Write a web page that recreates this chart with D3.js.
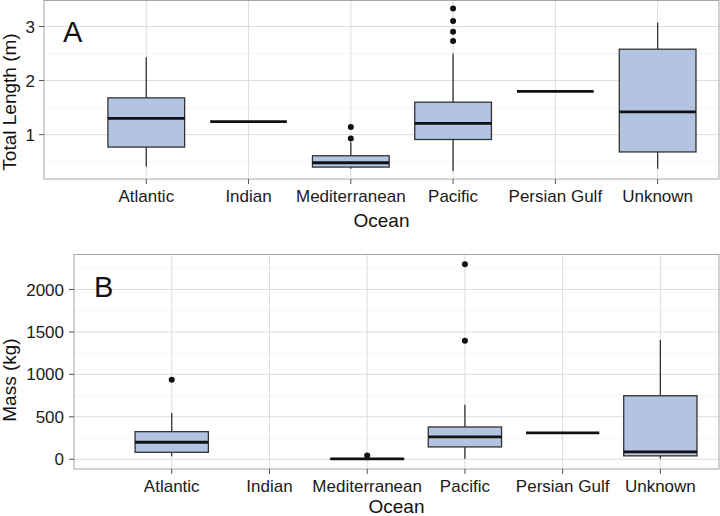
<!DOCTYPE html>
<html>
<head>
<meta charset="utf-8">
<script src="https://cdn.jsdelivr.net/npm/d3@7.9.0/dist/d3.min.js"></script>
<style>
  body { margin: 0; background: #fff; }
  svg { display: block; font-family: "Liberation Sans", Arial, sans-serif; }
</style>
</head>
<body>
<svg width="720" height="516"></svg>
<script>
const categories = ["Atlantic", "Indian", "Mediterranean", "Pacific", "Persian Gulf", "Unknown"];

// panel A: total length (m)
const lengthLow      = [0.41, 1.24, 0.37, 0.33, 1.80, 0.37];
const lengthQ1       = [0.77, 1.24, 0.40, 0.91, 1.80, 0.68];
const lengthMedian   = [1.30, 1.24, 0.48, 1.21, 1.80, 1.42];
const lengthQ3       = [1.68, 1.24, 0.61, 1.60, 1.80, 2.58];
const lengthHigh     = [2.43, 1.24, 0.86, 2.50, 1.80, 3.07];
const lengthOutliers = [[], [], [0.93, 1.14], [2.73, 2.90, 3.10, 3.33], [], []];
const lengthTicks = [1, 2, 3];

// panel B: mass (kg)
const massLow      = [35, null, 0, 5, 310, 5];
const massQ1       = [82, null, 2, 145, 310, 40];
const massMedian   = [200, null, 5, 263, 310, 87];
const massQ3       = [325, null, 8, 380, 310, 748];
const massHigh     = [545, null, 12, 642, 310, 1405];
const massOutliers = [[935], [], [43], [1397, 2297], [], []];
const massTicks = [0, 500, 1000, 1500, 2000];

const svg = d3.select('svg');
const boxFill = '#b2c4e2';

function drawPanel(opts) {
  const { left, top, right, bottom, low, q1, med, q3, high, outliers, ticks, minorTicks,
          letter, letterX, letterY, yTitle, yTitleX, yTitleY, labelY, titleY, tickGap } = opts;

  let all = [];
  categories.forEach((c, i) => {
    if (low[i] !== null) all.push(low[i], high[i]);
    all = all.concat(outliers[i]);
  });
  const lo = d3.min(all), hi = d3.max(all);
  const pad = (hi - lo) * 0.05;

  const y = d3.scaleLinear().domain([lo - pad, hi + pad]).range([bottom, top]);
  const x = d3.scaleLinear().domain([0, 6.6]).range([left, right]);
  const step = x(1) - x(0);
  const bw = step * 0.75;

  const g = svg.append('g');

  // minor grid
  g.selectAll('.minor').data(minorTicks).join('line')
    .attr('x1', left).attr('x2', right)
    .attr('y1', d => y(d)).attr('y2', d => y(d))
    .attr('stroke', '#f2f2f2').attr('stroke-width', 0.8);

  // major grid
  g.selectAll('.major').data(ticks).join('line')
    .attr('x1', left).attr('x2', right)
    .attr('y1', d => y(d)).attr('y2', d => y(d))
    .attr('stroke', '#dcdcdc').attr('stroke-width', 1);

  g.selectAll('.vgrid').data(categories).join('line')
    .attr('x1', (d, i) => x(i + 1)).attr('x2', (d, i) => x(i + 1))
    .attr('y1', top).attr('y2', bottom)
    .attr('stroke', '#dcdcdc').attr('stroke-width', 1);

  // boxes
  categories.forEach((c, i) => {
    if (low[i] === null) return;
    const cx = x(i + 1);
    g.append('line')
      .attr('x1', cx).attr('x2', cx)
      .attr('y1', y(q3[i])).attr('y2', y(high[i]))
      .attr('stroke', '#333').attr('stroke-width', 1.3);
    g.append('line')
      .attr('x1', cx).attr('x2', cx)
      .attr('y1', y(q1[i])).attr('y2', y(low[i]))
      .attr('stroke', '#333').attr('stroke-width', 1.3);
    g.append('rect')
      .attr('x', cx - bw / 2).attr('width', bw)
      .attr('y', y(q3[i])).attr('height', y(q1[i]) - y(q3[i]))
      .attr('fill', boxFill).attr('stroke', '#333').attr('stroke-width', 1.3);
    g.append('line')
      .attr('x1', cx - bw / 2).attr('x2', cx + bw / 2)
      .attr('y1', y(med[i])).attr('y2', y(med[i]))
      .attr('stroke', '#111').attr('stroke-width', 2.8);
    g.selectAll(null).data(outliers[i]).join('circle')
      .attr('cx', cx).attr('cy', d => y(d)).attr('r', 3)
      .attr('fill', '#111');
  });

  // panel border
  g.append('rect')
    .attr('x', left).attr('y', top)
    .attr('width', right - left).attr('height', bottom - top)
    .attr('fill', 'none').attr('stroke', '#a6a6a6').attr('stroke-width', 1);

  // y ticks
  ticks.forEach(t => {
    g.append('line')
      .attr('x1', left - 5).attr('x2', left)
      .attr('y1', y(t)).attr('y2', y(t))
      .attr('stroke', '#555').attr('stroke-width', 1);
    g.append('text')
      .attr('x', left - tickGap).attr('y', y(t))
      .attr('dy', '0.36em')
      .attr('text-anchor', 'end')
      .attr('font-size', 17).attr('fill', '#1a1a1a')
      .text(t);
  });

  // x ticks and labels
  categories.forEach((c, i) => {
    g.append('line')
      .attr('x1', x(i + 1)).attr('x2', x(i + 1))
      .attr('y1', bottom).attr('y2', bottom + 5)
      .attr('stroke', '#555').attr('stroke-width', 1);
    g.append('text')
      .attr('x', x(i + 1)).attr('y', labelY)
      .attr('text-anchor', 'middle')
      .attr('font-size', 17).attr('fill', '#1a1a1a')
      .text(c);
  });

  g.append('text')
    .attr('x', (left + right) / 2).attr('y', titleY)
    .attr('text-anchor', 'middle')
    .attr('font-size', 19).attr('fill', '#111')
    .text('Ocean');

  g.append('text')
    .attr('transform', `translate(${yTitleX},${yTitleY}) rotate(-90)`)
    .attr('text-anchor', 'middle')
    .attr('font-size', 19).attr('fill', '#111')
    .text(yTitle);

  g.append('text')
    .attr('x', letterX).attr('y', letterY)
    .attr('font-size', 29).attr('fill', '#111')
    .text(letter);
}

drawPanel({
  left: 44, top: 0.5, right: 719, bottom: 179,
  low: lengthLow, q1: lengthQ1, med: lengthMedian, q3: lengthQ3, high: lengthHigh,
  outliers: lengthOutliers, ticks: lengthTicks, minorTicks: [0.5, 1.5, 2.5],
  letter: 'A', letterX: 63, letterY: 42,
  yTitle: 'Total Length (m)', yTitleX: 16, yTitleY: 102,
  labelY: 202, titleY: 227, tickGap: 9
});

drawPanel({
  left: 74, top: 254.5, right: 719, bottom: 469,
  low: massLow, q1: massQ1, med: massMedian, q3: massQ3, high: massHigh,
  outliers: massOutliers, ticks: massTicks, minorTicks: [250, 750, 1250, 1750, 2250],
  letter: 'B', letterX: 94, letterY: 297,
  yTitle: 'Mass (kg)', yTitleX: 16, yTitleY: 380,
  labelY: 492, titleY: 513, tickGap: 10
});
</script>
</body>
</html>
